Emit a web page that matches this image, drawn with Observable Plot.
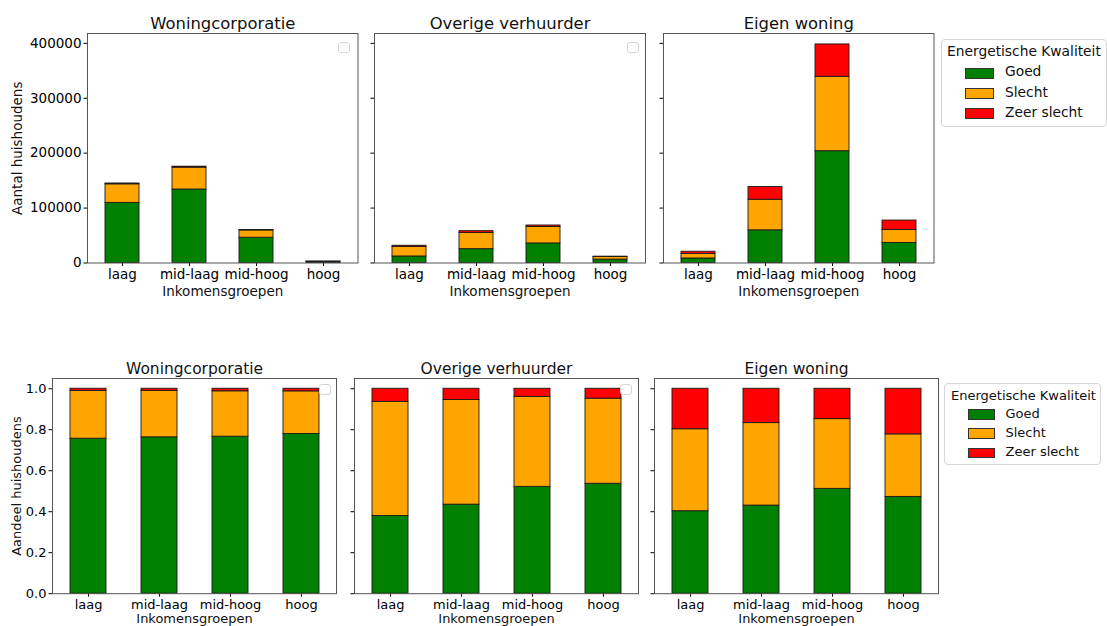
<!DOCTYPE html>
<html>
<head>
<meta charset="utf-8">
<script src="https://cdn.jsdelivr.net/npm/d3@7"></script>
<script src="https://cdn.jsdelivr.net/npm/@observablehq/plot@0.6"></script>
<style>
  html, body { margin: 0; padding: 0; background: #fff; overflow: hidden; }
  #root { position: relative; width: 1107px; height: 626px; font-family: "DejaVu Sans", sans-serif; color: #000; }
  #root svg { position: absolute; overflow: visible; }
  .legend { position: absolute; background: #fff; border: 1px solid #d6d6d6; border-radius: 4px; box-sizing: border-box; }
  .legend .lt { position: absolute; white-space: nowrap; color: #111; }
  .legend .sw { position: absolute; box-sizing: border-box; border: 1px solid #333; }
  .legend .lab { position: absolute; white-space: nowrap; color: #111; }
  .emptybox { position: absolute; border: 1px solid #d6d6d6; border-radius: 3px; background: #fff; box-sizing: border-box; }
</style>
</head>
<body>
<div id="root"></div>
<script>
// ---- Data ----
const owners = ["Woningcorporatie", "Overige verhuurder", "Eigen woning"];
const incomeGroups = ["laag", "mid-laag", "mid-hoog", "hoog"];
const qualities = ["Goed", "Slecht", "Zeer slecht"];
const qualityColors = ["#008000", "#ffa500", "#ff0000"];
const legendTitle = "Energetische Kwaliteit";
const xTitle = "Inkomensgroepen";
const yTitleCount = "Aantal huishoudens";
const yTitleShare = "Aandeel huishoudens";
const countTicks = [0, 100000, 200000, 300000, 400000];
const shareTicks = [0, 0.2, 0.4, 0.6, 0.8, 1.0];

// households per income group (laag, mid-laag, mid-hoog, hoog)
const corporatieGoed = [109500, 133800, 46000, 1950];
const corporatieSlecht = [33800, 39800, 13300, 520];
const corporatieZeerSlecht = [1500, 1800, 750, 32];

const overigeGoed = [11900, 25200, 35600, 6200];
const overigeSlecht = [17500, 29600, 30000, 4800];
const overigeZeerSlecht = [2000, 3200, 2700, 560];

const eigenGoed = [8250, 59500, 203600, 36500];
const eigenSlecht = [8200, 55700, 135400, 23600];
const eigenZeerSlecht = [4050, 23200, 59000, 17200];

const seriesByOwner = {
  "Woningcorporatie": [corporatieGoed, corporatieSlecht, corporatieZeerSlecht],
  "Overige verhuurder": [overigeGoed, overigeSlecht, overigeZeerSlecht],
  "Eigen woning": [eigenGoed, eigenSlecht, eigenZeerSlecht]
};

const rows = [];
for (const owner of owners) {
  incomeGroups.forEach((g, i) => {
    qualities.forEach((q, k) => {
      rows.push({owner, inkomen: g, kwaliteit: q, aantal: seriesByOwner[owner][k][i]});
    });
  });
}
const totals = d3.rollups(rows, v => d3.sum(v, d => d.aantal), d => d.owner, d => d.inkomen)
  .flatMap(([, arr]) => arr.map(([, s]) => s));
const maxTotal = d3.max(totals);

// ---- Layout ----
const root = document.getElementById("root");

function panel({owner, left, right, top, bottom, share, showY, fontSize, titleDy, xLabelDy, yLabelDx}) {
  const ml = 90, mr = 10, mt = 40, mb = 45;
  const data = rows.filter(d => d.owner === owner);
  const marks = [
    Plot.barY(data, {x: "inkomen", y: "aantal", fill: "kwaliteit",
      offset: share ? "normalize" : undefined, stroke: "#1a1a1a", strokeWidth: 0.9}),
    Plot.frame({stroke: "#555", strokeWidth: 1}),
    Plot.text([owner], {frameAnchor: "top", dy: titleDy, lineAnchor: "bottom", fontSize: share ? 15.5 : 16.4, fill: "#111"}),
    Plot.text([xTitle], {frameAnchor: "bottom", dy: xLabelDy, lineAnchor: "bottom", fontSize, fill: "#111"})
  ];
  if (showY) {
    marks.push(Plot.text([share ? yTitleShare : yTitleCount],
      {frameAnchor: "left", dx: yLabelDx, rotate: -90, textAnchor: "middle", lineAnchor: "middle", fontSize, fill: "#111"}));
  }
  const svg = Plot.plot({
    width: ml + (right - left) + mr,
    height: mt + (bottom - top) + mb,
    marginLeft: ml, marginRight: mr, marginTop: mt, marginBottom: mb,
    style: {fontFamily: "DejaVu Sans, sans-serif", fontSize: fontSize + "px", color: "#000", background: "transparent", overflow: "visible"},
    x: {domain: incomeGroups, paddingInner: 0.5, paddingOuter: 0.25, tickSize: 3.5, tickPadding: 3, label: null},
    y: {domain: share ? [0, 1.05] : [0, maxTotal * 1.05], ticks: share ? shareTicks : countTicks,
        tickSize: 3.5, tickPadding: 2.5,
        tickFormat: showY ? (share ? d3.format(".1f") : d3.format("d")) : () => "",
        label: null},
    color: {domain: qualities, range: qualityColors},
    marks
  });
  svg.style.left = (left - ml) + "px";
  svg.style.top = (top - mt) + "px";
  root.appendChild(svg);
}

const topFrames = [[86.5, 357], [373.5, 644.5], [662.5, 933]];
const bottomFrames = [[51.5, 335.5], [354, 638], [653.5, 937.5]];

owners.forEach((owner, i) => {
  panel({owner, left: topFrames[i][0], right: topFrames[i][1], top: 33.3, bottom: 262.8,
         share: false, showY: i === 0, fontSize: 13.5, titleDy: -5, xLabelDy: 32.7, yLabelDx: -69.5});
  panel({owner, left: bottomFrames[i][0], right: bottomFrames[i][1], top: 377.5, bottom: 592.7,
         share: true, showY: i === 0, fontSize: 13, titleDy: -4, xLabelDy: 29.6, yLabelDx: -36});
});

// empty legend boxes (as in the original)
[[338, 42], [627, 42], [319, 384], [620, 384]].forEach(([x, y]) => {
  const b = document.createElement("div");
  b.className = "emptybox";
  Object.assign(b.style, {left: x + "px", top: y + "px", width: "12px", height: "11px"});
  root.appendChild(b);
});

function legend({x, y, w, h, fs, titleX, titleY, swX, swW, swH, firstSwY, step, labX}) {
  const box = document.createElement("div");
  box.className = "legend";
  Object.assign(box.style, {left: x + "px", top: y + "px", width: w + "px", height: h + "px"});
  const t = document.createElement("div");
  t.className = "lt";
  t.textContent = legendTitle;
  Object.assign(t.style, {left: (titleX - x) + "px", top: (titleY - y) + "px", fontSize: fs + "px", lineHeight: fs + "px"});
  box.appendChild(t);
  qualities.forEach((q, k) => {
    const sw = document.createElement("div");
    sw.className = "sw";
    Object.assign(sw.style, {left: (swX - x) + "px", top: (firstSwY + k * step - y) + "px", width: swW + "px", height: swH + "px", background: qualityColors[k]});
    box.appendChild(sw);
    const lab = document.createElement("div");
    lab.className = "lab";
    lab.textContent = q;
    Object.assign(lab.style, {left: (labX - x) + "px", top: (firstSwY + k * step + swH / 2 - fs / 2 - y - 1) + "px", fontSize: fs + "px", lineHeight: fs + "px"});
    box.appendChild(lab);
  });
  root.appendChild(box);
}

legend({x: 941, y: 39, w: 166, h: 88, fs: 13.8, titleX: 946, titleY: 44, swX: 964, swW: 29, swH: 11, firstSwY: 66.5, step: 20.4, labX: 1004});
legend({x: 944, y: 383, w: 157, h: 82, fs: 13, titleX: 950, titleY: 388, swX: 967, swW: 27, swH: 10.5, firstSwY: 408, step: 19.3, labX: 1004.5});
</script>
</body>
</html>
